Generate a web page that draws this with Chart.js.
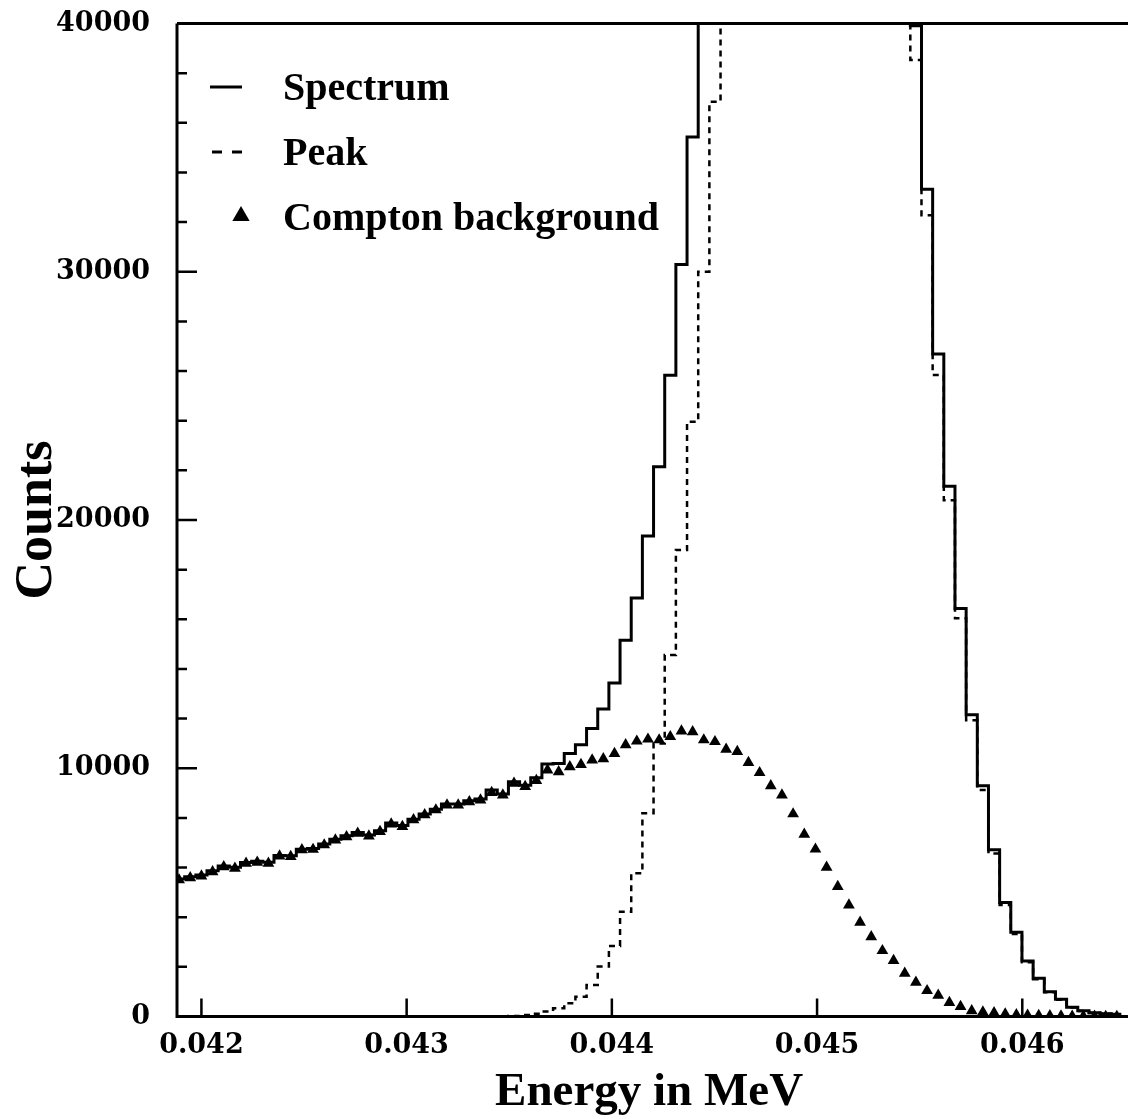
<!DOCTYPE html>
<html>
<head>
<meta charset="utf-8">
<script src="https://cdn.jsdelivr.net/npm/chart.js@4.4.1/dist/chart.umd.min.js"></script>
<style>
    html, body { margin: 0; padding: 0; background: #ffffff; }
    #spectrum-chart { display: block; }
</style>
</head>
<body>
<canvas id="spectrum-chart" width="1128" height="1119"></canvas>
<script>
// histogram binning (energy in MeV)
const binStart = 0.041864;
const binWidth = 0.0000544;

// counts per bin
const spectrumCounts = [
    5540, 5630, 5700, 5870, 6060, 6010, 6200, 6250, 6210, 6490,
    6480, 6740, 6770, 6950, 7140, 7280, 7410, 7310, 7480, 7790,
    7690, 7950, 8160, 8350, 8560, 8560, 8690, 8760, 9120, 8960,
    9460, 9320, 9620, 10170, 10190, 10590, 10950, 11600, 12390, 13430,
    15160, 16860, 19360, 22140, 25830, 30290, 35430, 41140, 47920, 55360,
    62670, 69230, 75320, 79790, 82920, 84160, 83840, 82240, 79010, 74730,
    69990, 64790, 59710, 54650, 49750, 45740, 39910, 33320, 26690, 21360,
    16440, 12160, 9300, 6720, 4590, 3390, 2240, 1540, 1000, 690,
    370, 230, 150, 110, 90
];

const peakCounts = [
    0, 0, 0, 0, 0, 0, 0, 0, 0, 0,
    0, 0, 0, 0, 0, 0, 0, 0, 0, 0,
    0, 0, 0, 0, 0, 0, 0, 0, 0, 0,
    20, 60, 110, 200, 330, 530, 800, 1270, 2010, 2840,
    4220, 5770, 8190, 11000, 14560, 18790, 23960, 30000, 36850, 44600,
    52000, 59000, 65500, 70500, 74000, 76000, 76500, 75500, 73000, 69500,
    65500, 61000, 56500, 52000, 47500, 44000, 38530, 32280, 25840, 20800,
    16040, 11930, 9120, 6570, 4490, 3320, 2190, 1505, 975, 675,
    360, 222, 145, 107, 88
];

const comptonCounts = [
    5500, 5590, 5660, 5830, 6030, 5970, 6170, 6210, 6170, 6460,
    6440, 6710, 6730, 6910, 7110, 7240, 7380, 7270, 7450, 7750,
    7650, 7920, 8120, 8320, 8520, 8520, 8650, 8720, 9020, 8920,
    9390, 9260, 9500, 9930, 9860, 10060, 10150, 10330, 10380, 10590,
    10940, 11090, 11170, 11140, 11270, 11500, 11470, 11140, 11070, 10760,
    10670, 10230, 9820, 9290, 8920, 8160, 7340, 6740, 6010, 5230,
    4490, 3790, 3210, 2650, 2250, 1740, 1380, 1040, 850, 560,
    400, 230, 180, 150, 100, 70, 50, 35, 25, 15,
    10, 8, 5, 3, 2
];

const xTicks = [0.042, 0.043, 0.044, 0.045, 0.046];
const yTicks = [0, 10000, 20000, 30000, 40000];
const yMinorStep = 2000;
const legendLabels = ['Spectrum', 'Peak', 'Compton background'];

const serif     = "'Liberation Serif', 'Times New Roman', serif";
const tickserif = "'DejaVu Serif', serif";

// left bin edges for a step line, plus the closing right edge
function stepPoints(counts)
{
    let pts = counts.map((c, i) => ({ x: binStart + i * binWidth, y: c }));
    pts.push({ x: binStart + counts.length * binWidth, y: counts[counts.length - 1] });
    return pts;
}

function centerPoints(counts)
{
    return counts.map((c, i) => ({ x: binStart + (i + 0.5) * binWidth, y: c }));
}

// frame, inward tick marks and the in-plot legend
const framePlugin = {
    id: 'frame',
    afterDraw(chart) {
        const ctx  = chart.ctx;
        const area = chart.chartArea;
        const xs   = chart.scales.x;
        const ys   = chart.scales.y;

        ctx.save();
        ctx.strokeStyle = '#000';
        ctx.lineWidth   = 3;
        ctx.setLineDash([]);

        ctx.beginPath();
        ctx.moveTo(area.left, area.top);
        ctx.lineTo(chart.width, area.top);
        ctx.moveTo(area.left, area.top);
        ctx.lineTo(area.left, area.bottom);
        ctx.lineTo(chart.width, area.bottom);
        ctx.stroke();

        ctx.lineWidth = 2.5;
        ctx.beginPath();
        xTicks.forEach(v => {
            const px = xs.getPixelForValue(v);
            ctx.moveTo(px, area.bottom);
            ctx.lineTo(px, area.bottom - 18);
        });
        for (let v = 0; v <= ys.max; v += yMinorStep) {
            const py  = ys.getPixelForValue(v);
            const len = (v % 10000 === 0) ? 20 : 10;
            ctx.moveTo(area.left, py);
            ctx.lineTo(area.left + len, py);
        }
        ctx.stroke();

        // legend
        ctx.lineWidth = 3;
        ctx.beginPath();
        ctx.moveTo(210, 87);
        ctx.lineTo(242, 87);
        ctx.stroke();

        ctx.setLineDash([10, 10]);
        ctx.beginPath();
        ctx.moveTo(212, 152);
        ctx.lineTo(242, 152);
        ctx.stroke();
        ctx.setLineDash([]);

        ctx.fillStyle = '#000';
        Chart.helpers.drawPoint(ctx, { pointStyle: 'triangle', radius: 10, borderWidth: 0 }, 241, 216);

        ctx.font         = 'bold 40px ' + serif;
        ctx.textAlign    = 'left';
        ctx.textBaseline = 'alphabetic';
        ctx.fillText(legendLabels[0], 283, 100);
        ctx.fillText(legendLabels[1], 283, 165);
        ctx.fillText(legendLabels[2], 283, 230);

        ctx.restore();
    }
};

const spectrumCtx = document.getElementById('spectrum-chart');

new Chart(spectrumCtx, {
    type: 'line',
    data: {
        datasets: [{
            label       : legendLabels[2],
            data        : centerPoints(comptonCounts),
            showLine    : false,
            pointStyle  : 'triangle',
            pointRadius : 6.8,
            pointBackgroundColor: '#000',
            pointBorderColor    : '#000',
            pointBorderWidth    : 0,
            order       : 0
        }, {
            label       : legendLabels[0],
            data        : stepPoints(spectrumCounts),
            stepped     : 'before',
            borderColor : '#000',
            borderWidth : 3,
            pointRadius : 0,
            fill        : false,
            order       : 1
        }, {
            label       : legendLabels[1],
            data        : stepPoints(peakCounts),
            stepped     : 'before',
            borderColor : '#000',
            borderWidth : 2.5,
            borderDash  : [6, 5],
            pointRadius : 0,
            fill        : false,
            order       : 2
        }]
    },
    options: {
        responsive : false,
        animation  : false,
        events     : [],
        layout: {
            padding: { top: 23.5, right: 0, bottom: 0, left: 0 }
        },
        plugins: {
            legend  : { display: false },
            tooltip : { enabled: false }
        },
        scales: {
            x: {
                type : 'linear',
                min  : 0.041881,
                max  : 0.046482,
                afterBuildTicks: s => { s.ticks = xTicks.map(v => ({ value: v })); },
                afterFit: s => { s.height = 102.5; s.paddingLeft = 0; s.paddingRight = 0; },
                grid   : { display: false, drawTicks: false },
                border : { display: false },
                ticks  : {
                    autoSkip    : false,
                    maxRotation : 0,
                    padding     : 13,
                    color       : '#000',
                    font        : { family: tickserif, size: 27, weight: 'bold' },
                    callback    : v => v.toFixed(3)
                },
                title: {
                    display : true,
                    text    : 'Energy in MeV',
                    color   : '#000',
                    font    : { family: serif, size: 47, weight: 'bold', lineHeight: 1.1 },
                    padding : { top: 0, bottom: 0 }
                }
            },
            y: {
                min : 0,
                max : 40000,
                afterBuildTicks: s => { s.ticks = yTicks.map(v => ({ value: v })); },
                afterFit: s => { s.width = 177; s.paddingTop = 0; s.paddingBottom = 0; },
                grid   : { display: false, drawTicks: false },
                border : { display: false },
                ticks  : {
                    padding  : 27,
                    color    : '#000',
                    font     : { family: tickserif, size: 27, weight: 'bold' },
                    callback : v => String(v)
                },
                title: {
                    display : true,
                    text    : 'Counts',
                    color   : '#000',
                    font    : { family: serif, size: 52, weight: 'bold', lineHeight: 1.2 },
                    padding : { top: 6, bottom: 0 }
                }
            }
        }
    },
    plugins: [framePlugin]
});
</script>
</body>
</html>
